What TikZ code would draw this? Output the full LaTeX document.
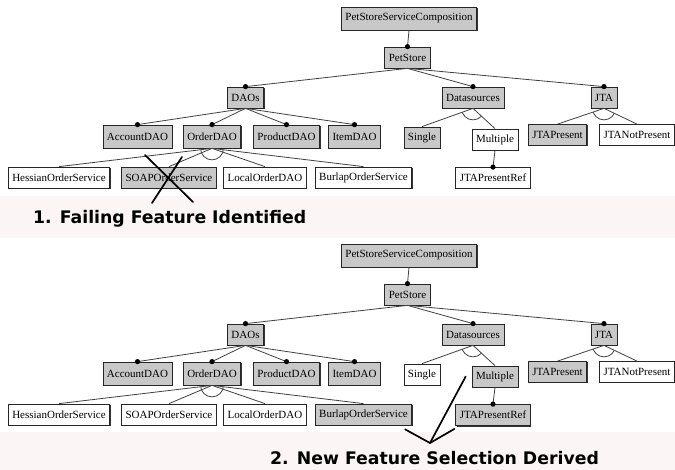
\documentclass[tikz,border=0pt]{standalone}
\usepackage{fontspec}
\setmainfont{Liberation Serif}
\newfontfamily\captionfont{DejaVu Sans}
\usetikzlibrary{calc,shadows}

\definecolor{selgray}{RGB}{200,200,200}
\definecolor{bandpink}{RGB}{252,245,245}
\definecolor{linegray}{RGB}{65,65,65}

\tikzset{
  feat/.style={draw=black!85, line width=0.75pt, minimum height=21pt,
    inner xsep=4pt, inner ysep=0pt, font=\fontsize{11}{12}\selectfont,
    drop shadow={shadow xshift=1pt, shadow yshift=-1pt, fill=black!80, opacity=1}},
  featon/.style={feat, fill=selgray},
  featoff/.style={feat, fill=white},
  tall/.style={minimum height=23pt},
  edge/.style={draw=linegray, line width=0.8pt},
  marker/.style={draw=black, line width=1.7pt, line cap=round},
  caption/.style={font=\captionfont\bfseries\fontsize{17.3}{20}\selectfont, inner sep=0pt}
}

% mandatory child: plain line ending in a filled dot
\newcommand\Mand[2]{%
  \draw[edge] (#1.south) -- (#2.north);
  \fill (#2.north) circle[radius=2.6pt];}
% member of an alternative group: plain line
\newcommand\Alt[2]{\draw[edge] (#1.south) -- (#2.north);}
% arc spanning an alternative group, between its outermost children
\newcommand\AltArc[3]{%
  \begin{scope}
    \clip (#1.south) -- ($(#1.south)!200pt!(#2.north)$) -- ($(#1.south)!200pt!(#3.north)$) -- cycle;
    \draw[edge] (#1.south) circle[radius=11.5pt];
  \end{scope}}

% feature tree; arguments give the fill of the varying features:
% #1 Single, #2 Multiple, #3 JTAPresentRef, #4 SOAPOrderService, #5 BurlapOrderService
\newcommand\FeatureTree[5]{%
  \node[featon, tall] (comp) at (409,18.5) {PetStoreServiceComposition};
  \node[featon] (pet) at (407.5,57.5) {PetStore};
  \node[featon] (daos) at (245.5,97.5) {DAOs};
  \node[featon] (ds) at (473,97.5) {Datasources};
  \node[featon] (jta) at (604,97.5) {JTA};
  \node[featon, tall] (acc) at (137.5,136.5) {AccountDAO};
  \node[featon, tall] (ord) at (212,136.5) {OrderDAO};
  \node[featon, tall] (prod) at (286.5,136.5) {ProductDAO};
  \node[featon, tall] (item) at (354.5,136.5) {ItemDAO};
  \node[#1] (single) at (422,137.5) {Single};
  \node[#2] (mult) at (495,139.5) {Multiple};
  \node[featon] (jtap) at (557.5,135) {JTAPresent};
  \node[featoff] (jtanp) at (637,135) {JTANotPresent};
  \node[featoff] (hess) at (59,177.5) {HessianOrderService};
  \node[#4] (soap) at (169,177.5) {SOAPOrderService};
  \node[featoff] (local) at (265,177.5) {LocalOrderDAO};
  \node[#5] (burlap) at (363.5,177.5) {BurlapOrderService};
  \node[#3] (ref) at (493,178) {JTAPresentRef};
  \Mand{comp}{pet}
  \Mand{pet}{daos}
  \Mand{pet}{ds}
  \Mand{pet}{jta}
  \Mand{daos}{acc}
  \Mand{daos}{ord}
  \Mand{daos}{prod}
  \Mand{daos}{item}
  \Alt{ord}{hess}
  \Alt{ord}{soap}
  \Alt{ord}{local}
  \Alt{ord}{burlap}
  \AltArc{ord}{hess}{burlap}
  \Alt{ds}{single}
  \Alt{ds}{mult}
  \AltArc{ds}{single}{mult}
  \Alt{jta}{jtap}
  \Alt{jta}{jtanp}
  \AltArc{jta}{jtap}{jtanp}
  \Mand{mult}{ref}
}

\begin{document}
\begin{tikzpicture}[x=1pt, y=-1pt]
  % canvas and caption bands
  \fill[white] (0,0) rectangle (675,470);
  \useasboundingbox (0,0) rectangle (675,470);
  \fill[bandpink] (0,196) rectangle (675,238);
  \fill[bandpink] (0,432) rectangle (675,470);

  % step 1: the selection in which a feature fails
  \begin{scope}[name prefix=a-]
    \FeatureTree{featon}{featoff}{featoff}{featon}{featoff}
  \end{scope}
  \draw[marker] ($(a-soap)+(-24,-22.5)$) -- ($(a-soap)+(24,24.5)$);
  \draw[marker] ($(a-soap)+(13,-20.5)$) -- ($(a-soap)+(-17,25.5)$);
  \node[caption, anchor=base west] (cap1) at (33,224) {1. Failing Feature Identified};

  % step 2: the derived selection
  \begin{scope}[yshift=-237pt, name prefix=b-]
    \FeatureTree{featoff}{featon}{featon}{featoff}{featon}
  \end{scope}
  \node[caption, anchor=base west] (cap2) at (270,464) {2. New Feature Selection Derived};
  \coordinate (hub) at (430,443);
  \draw[marker] (hub) -- ($(b-burlap.south east)+(-7,4)$);
  \draw[marker] (hub) -- ($(b-mult.west)+(-6,0)$);
  \draw[marker] (hub) -- ($(b-ref.south west)+(-1,3)$);
\end{tikzpicture}
\end{document}
